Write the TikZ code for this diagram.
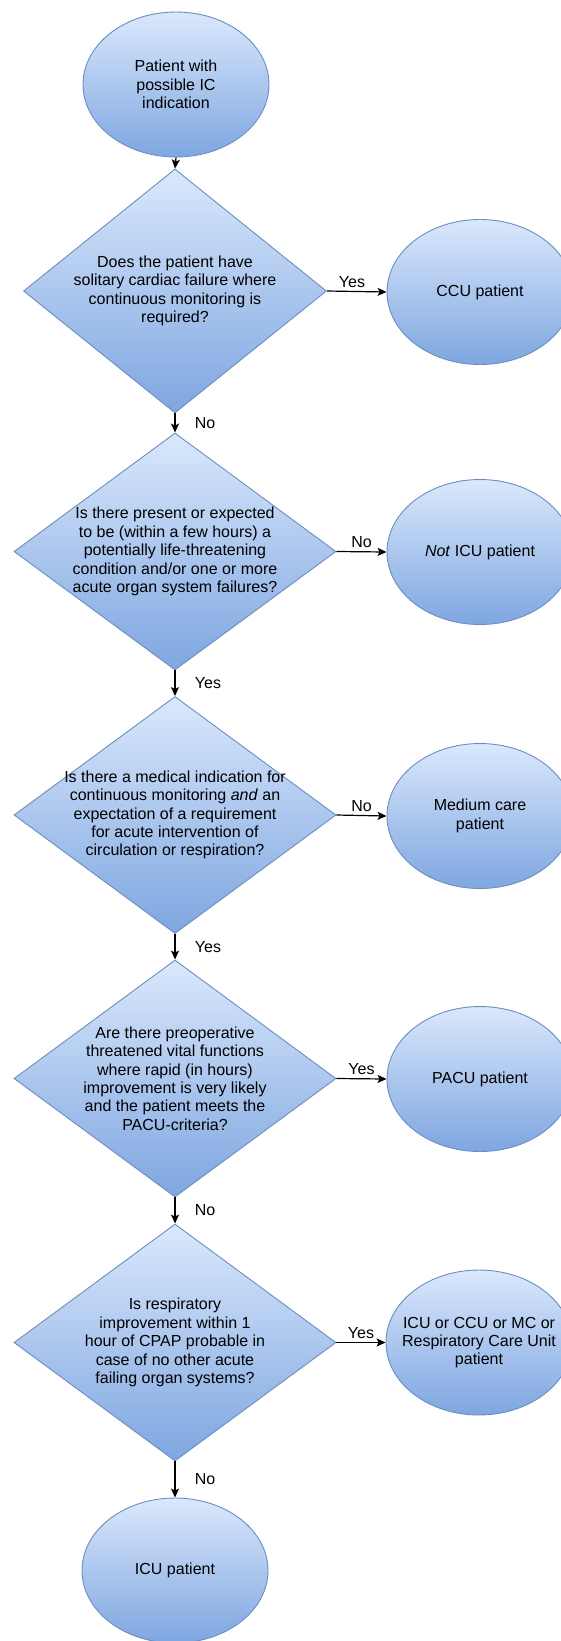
\documentclass[tikz,border=0pt]{standalone}
\usepackage{fontspec}
\setmainfont{Liberation Sans}
\usetikzlibrary{shapes.geometric,arrows.meta}

\definecolor{topblue}{HTML}{DAE8FC}
\definecolor{botblue}{HTML}{7EA6E0}
\definecolor{lineblue}{HTML}{6C8EBF}

\tikzset{
	base/.style={draw=lineblue, line width=0.9pt, top color=topblue, bottom color=botblue, inner sep=0pt},
	term/.style={base, ellipse, minimum width=186pt, minimum height=145pt},
	decision/.style={base, diamond, minimum width=322pt, minimum height=237pt},
	txt/.style={font=\fontsize{16}{18.4}\selectfont, align=center, inner sep=0pt},
	flow/.style={line width=1.2pt, -{Stealth[length=9pt,width=8pt,inset=2pt]}},
	ans/.style={font=\fontsize{16}{18.4}\selectfont}
}

\begin{document}
\begin{tikzpicture}[x=1pt,y=-1pt]
		\useasboundingbox (0,0) rectangle (560,1641);
		
		\node[term, label={[txt]center:{Patient with\\possible IC\\indication}}] (start) at (176,84.5) {};
		
		\node[decision, minimum width=303pt, minimum height=244pt, label={[txt]center:{Does the patient have\\solitary cardiac failure where\\continuous monitoring is\\required?}}] (q1) at (175,291) {};
		\node[term, label={[txt]center:{CCU patient}}] (ccu) at (480,292) {};
		
		\node[decision, label={[txt]center:{Is there present or expected\\to be (within a few hours) a\\potentially life-threatening\\condition and/or one or more\\acute organ system failures?}}] (q2) at (175,551.5) {};
		\node[term, label={[txt]center:{\textit{Not} ICU patient}}] (noticu) at (480,552) {};
		
		\node[decision, label={[txt]center:{Is there a medical indication for\\continuous monitoring \textit{and} an\\expectation of a requirement\\for acute intervention of\\circulation or respiration?}}] (q3) at (175,815) {};
		\node[term, label={[txt]center:{Medium care\\patient}}] (medium) at (480,816) {};
		
		\node[decision, label={[txt]center:{Are there preoperative\\threatened vital functions\\where rapid (in hours)\\improvement is very likely\\and the patient meets the\\PACU-criteria?}}] (q4) at (175,1078.5) {};
		\node[term, label={[txt]center:{PACU patient}}] (pacu) at (480,1079) {};
		
		\node[decision, label={[txt]center:{Is respiratory\\improvement within 1\\hour of CPAP probable in\\case of no other acute\\failing organ systems?}}] (q5) at (175,1342.5) {};
		\node[term, label={[txt]center:{ICU or CCU or MC or\\Respiratory Care Unit\\patient}}] (resp) at (479,1342.5) {};
		
		\node[term, label={[txt]center:{ICU patient}}] (icu) at (175,1570.5) {};
		
		\draw[flow] (start.south) -- (q1.north);
		\draw[flow] (q1.south) -- node[ans, right, xshift=16pt] {No} (q2.north);
		\draw[flow] (q2.south) -- node[ans, right, xshift=16pt] {Yes} (q3.north);
		\draw[flow] (q3.south) -- node[ans, right, xshift=16pt] {Yes} (q4.north);
		\draw[flow] (q4.south) -- node[ans, right, xshift=16pt] {No} (q5.north);
		\draw[flow] (q5.south) -- node[ans, right, xshift=16pt] {No} (icu.north);
		
		\draw[flow] (q1.east) -- node[ans, above, pos=0.42] {Yes} (ccu.west);
		\draw[flow] (q2.east) -- node[ans, above, pos=0.5] {No} (noticu.west);
		\draw[flow] (q3.east) -- node[ans, above, pos=0.5] {No} (medium.west);
		\draw[flow] (q4.east) -- node[ans, above, pos=0.5] {Yes} (pacu.west);
		\draw[flow] (q5.east) -- node[ans, above, pos=0.5] {Yes} (resp.west);
\end{tikzpicture}
\end{document}
